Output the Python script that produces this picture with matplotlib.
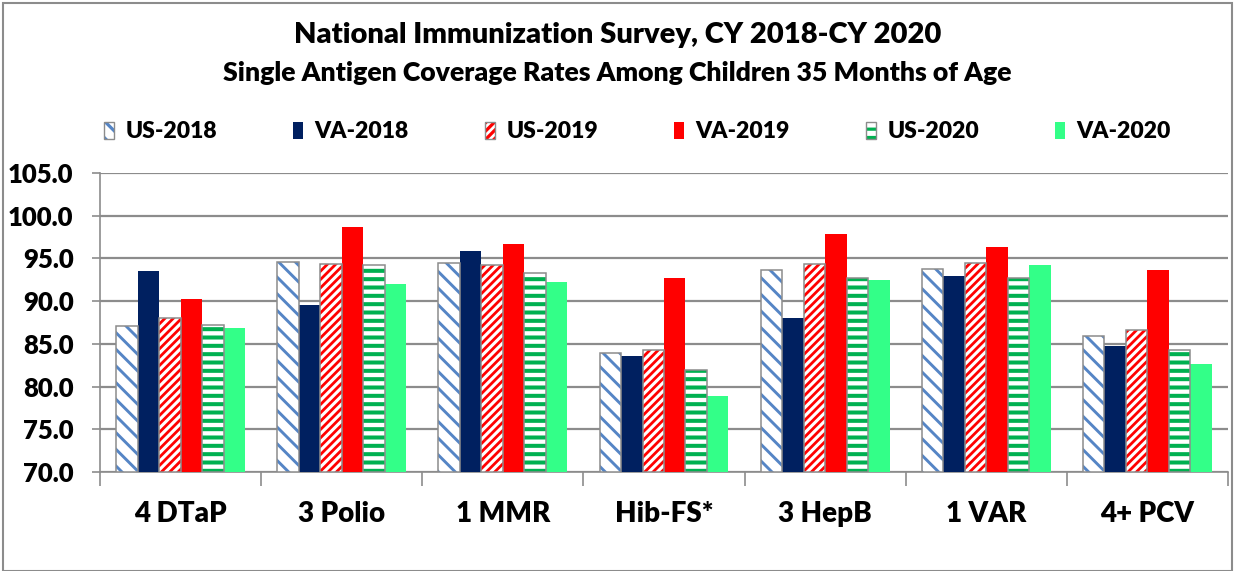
import matplotlib
matplotlib.use("Agg")
import matplotlib.pyplot as plt
from matplotlib.patches import Rectangle, Patch
from matplotlib.legend_handler import HandlerTuple
import numpy as np

categories = ["4 DTaP", "3 Polio", "1 MMR", "Hib-FS*", "3 HepB", "1 VAR", "4+ PCV"]
series_names = ["US-2018", "VA-2018", "US-2019", "VA-2019", "US-2020", "VA-2020"]
us_2018 = [87.1, 94.6, 94.5, 83.9, 93.6, 93.8, 85.9]
va_2018 = [93.5, 89.6, 95.9, 83.6, 88.0, 92.9, 84.7]
us_2019 = [88.0, 94.3, 94.2, 84.3, 94.3, 94.5, 86.6]
va_2019 = [90.2, 98.7, 96.7, 92.7, 97.9, 96.3, 93.7]
us_2020 = [87.2, 94.2, 93.3, 81.9, 92.7, 92.7, 84.3]
va_2020 = [86.8, 92.0, 92.2, 78.9, 92.5, 94.2, 82.6]
yticks = [70.0, 75.0, 80.0, 85.0, 90.0, 95.0, 100.0, 105.0]

values = [us_2018, va_2018, us_2019, va_2019, us_2020, va_2020]
# (face, hatch, hatchcolor, hatch linewidth)
styles = [
    ("white", "\\\\", "#5585C5", 2.1),
    ("#002060", None, None, None),
    ("white", "////", "#FF0000", 2.0),
    ("#FF0000", None, None, None),
    ("white", "--", "#00B050", 2.9),
    ("#33FF88", None, None, None),
]

FONT = "Lato"
W = "heavy"

fig = plt.figure(figsize=(12.35, 5.71), dpi=100)
ax = fig.add_axes([100 / 1235, 1 - 472 / 571, 1128 / 1235, (472 - 173) / 571])

x = np.arange(len(categories))
n = len(values)
group_w = 0.8
bw = group_w / n
handles = []
for i, (vals, (face, hatch, hcol, hlw)) in enumerate(zip(values, styles)):
    pos = x - group_w / 2 + bw * (i + 0.5)
    heights = [v - 70.0 for v in vals]
    if hatch:
        plt.rcParams["hatch.linewidth"] = hlw
        ax.bar(pos, heights, bw, bottom=70.0, color=face, edgecolor=hcol,
               hatch=hatch, linewidth=0, zorder=3)
        ax.bar(pos, heights, bw, bottom=70.0, fill=False, edgecolor="#8C8C8C",
               linewidth=1.1, zorder=4)
        h_fill = Patch(facecolor=face, edgecolor=hcol, hatch=hatch, linewidth=0)
        h_edge = Patch(fill=False, edgecolor="#8C8C8C", linewidth=1.0)
        handles.append((h_fill, h_edge))
    else:
        ax.bar(pos, heights, bw, bottom=70.0, color=face, linewidth=0, zorder=3)
        handles.append(Patch(facecolor=face, linewidth=0))
plt.rcParams["hatch.linewidth"] = 2.3

ax.set_ylim(70, 105)
ax.set_xlim(-0.5, len(categories) - 0.5)
ax.set_yticks(yticks)
ax.set_yticklabels([f"{t:.1f}" for t in yticks], fontsize=18.5, fontweight=W,
                   family=FONT)
ax.yaxis.grid(True, color="#8C8C8C", linewidth=1.6, zorder=0)
ax.set_axisbelow(True)
ax.tick_params(axis="y", length=6, width=1.2, color="#8C8C8C", pad=13)

ax.set_xticks(np.arange(-0.5, len(categories), 1.0))
ax.set_xticklabels([])
ax.set_xticks(x, minor=True)
ax.set_xticklabels(categories, minor=True, fontsize=20, fontweight=W,
                   family=FONT)
ax.tick_params(axis="x", which="major", length=10, width=1.2, color="#8C8C8C")
ax.tick_params(axis="x", which="minor", length=0, pad=21)

for s in ["top", "right"]:
    ax.spines[s].set_visible(False)
for s in ["left", "bottom"]:
    ax.spines[s].set_color("#8C8C8C")
    ax.spines[s].set_linewidth(1.2)

fig.text(0.5, 1 - 35 / 571, "National Immunization Survey, CY 2018-CY 2020",
         ha="center", va="center", fontsize=21, fontweight=W, family=FONT)
fig.text(0.5, 1 - 73 / 571, "Single Antigen Coverage Rates Among Children 35 Months of Age",
         ha="center", va="center", fontsize=19.2, fontweight=W, family=FONT)

leg = fig.legend(handles=handles, labels=series_names, loc="center left",
                 bbox_to_anchor=(104 / 1235, 1 - 132 / 571), ncol=6, frameon=False,
                 prop={"family": FONT, "weight": W, "size": 16.5},
                 handlelength=0.45, handleheight=0.7, handletextpad=0.5,
                 columnspacing=3.3, borderaxespad=0, borderpad=0,
                 handler_map={tuple: HandlerTuple(ndivide=1, pad=0)})

fig.patches.append(Rectangle((3 / 1235, 0), 1229 / 1235, 1 - 3 / 571,
                             transform=fig.transFigure, fill=False,
                             edgecolor="#8C8C8C", linewidth=1.5))

fig.savefig("out.png", dpi=100)
